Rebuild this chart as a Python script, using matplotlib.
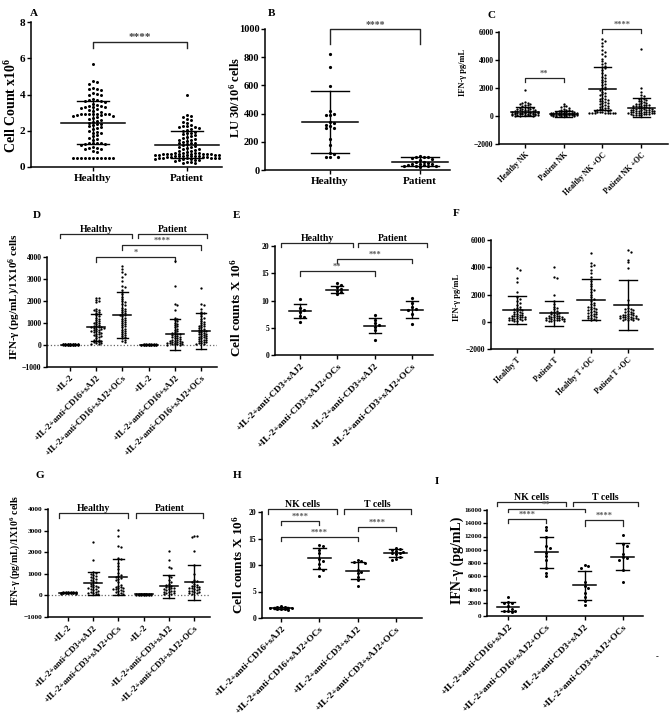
import numpy as np
import matplotlib
matplotlib.use('Agg')
import matplotlib.pyplot as plt

plt.rcParams['font.family'] = ['Liberation Serif', 'DejaVu Serif']
plt.rcParams['font.weight'] = 'bold'
plt.rcParams['mathtext.default'] = 'regular'
plt.rcParams['axes.linewidth'] = 1.1

W, H = 669, 721

# ---------------- data ----------------
# A: cell counts x10^6
A_cats = ['Healthy', 'Patient']
A_healthy = [5.7, 4.75, 4.7, 4.6, 4.35, 4.3, 4.3, 4.25, 4.1, 4.05, 4.0, 3.95, 3.75, 3.7, 3.7,
             3.65, 3.65, 3.6, 3.5, 3.4, 3.35, 3.35, 3.3, 3.3, 3.3, 3.25, 3.2, 3.15, 3.1, 3.05,
             2.95, 2.95, 2.9, 2.9, 2.9, 2.9, 2.9, 2.85, 2.85, 2.8, 2.8, 2.75, 2.7, 2.65, 2.6,
             2.55, 2.5, 2.45, 2.4, 2.35, 2.3, 2.25, 2.2, 2.15, 2.1, 2.0, 1.95, 1.9, 1.85, 1.75,
             1.7, 1.6, 1.55, 1.5, 1.35, 1.3, 1.3, 1.3, 1.25, 1.25, 1.2, 1.1, 1.05, 1.05, 1.0,
             1.0, 0.9, 0.85, 0.5, 0.5, 0.5, 0.5, 0.5, 0.5, 0.5, 0.5, 0.5, 0.5, 0.5]
A_patient = [3.95, 2.85, 2.8, 2.75, 2.65, 2.6, 2.5, 2.45, 2.3, 2.25, 2.25, 2.2, 2.2, 2.15, 2.1,
             2.05, 2.0, 1.95, 1.9, 1.85, 1.8, 1.75, 1.7, 1.65, 1.6, 1.55, 1.5, 1.5, 1.45, 1.4,
             1.35, 1.3, 1.3, 1.25, 1.2, 1.15, 1.1, 1.1, 1.05, 1.0, 1.0, 0.95, 0.9, 0.9, 0.85,
             0.8, 0.8, 0.75, 0.75, 0.7, 0.7, 0.7, 0.7, 0.7, 0.7, 0.7, 0.7, 0.65, 0.65, 0.65,
             0.65, 0.65, 0.6, 0.6, 0.6, 0.6, 0.6, 0.6, 0.55, 0.55, 0.55, 0.55, 0.5, 0.5, 0.5,
             0.5, 0.5, 0.5, 0.45, 0.45, 0.45, 0.4, 0.4, 0.4, 0.35, 0.3, 0.25, 0.2, 0.2]
A_mean = [2.45, 1.22]
A_sd = [1.2, 0.75]

# B: lytic units
B_cats = ['Healthy', 'Patient']
B_healthy = [820, 730, 595, 420, 400, 390, 390, 340, 330, 320, 310, 300, 295, 220, 175, 120,
             110, 95, 90, 90]
B_patient = [100, 95, 95, 90, 85, 80, 70, 60, 55, 50, 45, 40, 40, 35, 35, 30, 30, 30, 25, 20]
B_mean = [340, 60]
B_sd = [220, 32]

# C: IFN-gamma NK
C_cats = ['Healthy NK', 'Patient NK', 'Healthy NK +OC', 'Patient NK +OC']
C_hnk = [1850, 1000, 950, 920, 880, 860, 800, 760, 700, 650, 630, 600, 570, 550, 520, 500,
         480, 460, 430, 420, 400, 380, 370, 350, 340, 320, 300, 290, 280, 270, 260, 250, 240,
         230, 220, 210, 200, 190, 180, 170, 160, 150, 140, 130, 120, 110, 100, 90, 80, 70, 60,
         50, 40, 30, 20, 10]
C_pnk = [880, 750, 700, 650, 600, 520, 450, 420, 400, 380, 350, 330, 310, 300, 280, 260, 250,
         240, 230, 220, 210, 200, 190, 180, 175, 170, 160, 150, 145, 140, 130, 125, 120, 110,
         105, 100, 95, 90, 85, 80, 70, 60, 55, 50, 40, 30, 25, 20, 10, 5]
C_hoc = [5500, 5350, 5200, 5000, 4750, 4600, 4450, 4300, 4100, 3900, 3800, 3700, 3600, 3500,
         3400, 3300, 3100, 2950, 2800, 2700, 2600, 2500, 2400, 2300, 2200, 2100, 2000, 1900,
         1850, 1750, 1650, 1550, 1500, 1400, 1300, 1250, 1200, 1150, 1100, 1050, 1000, 950,
         900, 850, 800, 750, 700, 650, 600, 550, 500, 480, 450, 420, 400, 380, 350, 320, 300,
         280, 250, 230, 210, 200, 200, 200, 200, 200]
C_poc = [4800, 2000, 1700, 1500, 1400, 1300, 1250, 1200, 1150, 1100, 1050, 1000, 950, 900,
         880, 850, 820, 800, 780, 750, 720, 700, 680, 650, 620, 600, 580, 560, 540, 520, 500,
         480, 460, 450, 440, 420, 400, 380, 360, 350, 340, 320, 300, 290, 280, 260, 250, 240,
         220, 200, 190, 180, 160, 150, 140, 120, 100, 80, 60, 40]
C_mean = [300, 150, 1950, 580]
C_sd = [330, 190, 1550, 680]

# D: IFN-gamma NK, anti-CD16
D_cats = ['+IL-2', '+IL-2+anti-CD16+sAJ2', '+IL-2+anti-CD16+sAJ2+OCs',
          '+IL-2', '+IL-2+anti-CD16+sAJ2', '+IL-2+anti-CD16+sAJ2+OCs']
D_h_il2 = [60, 55, 50, 50, 45, 40, 40, 35, 35, 30, 30, 30, 25, 25, 20, 20, 20, 15, 15, 10, 10,
           10, 5, 5, 0, 0, 0, 0]
D_h_cd16 = [2150, 2150, 2050, 2000, 1950, 1650, 1600, 1600, 1550, 1500, 1450, 1400, 1350,
            1300, 1250, 1200, 1150, 1100, 1050, 1000, 980, 950, 900, 880, 850, 830, 800, 800,
            780, 760, 740, 720, 700, 680, 650, 620, 600, 580, 550, 500, 480, 450, 420, 400,
            350, 300, 250, 220, 200, 180, 150, 120, 100, 80, 50, 30]
D_h_oc = [3580, 3450, 3300, 3250, 3100, 2900, 2700, 2650, 2500, 2400, 2300, 2200, 2100, 2000,
          1950, 1850, 1800, 1700, 1650, 1600, 1550, 1500, 1450, 1400, 1380, 1350, 1300, 1250,
          1200, 1150, 1100, 1050, 1000, 950, 900, 850, 800, 750, 700, 650, 600, 550, 500, 450,
          400, 350, 300, 250, 200, 150]
D_p_il2 = [40, 35, 30, 30, 25, 25, 20, 20, 15, 15, 10, 10, 10, 5, 5, 0, 0, 0, 0, 0]
D_p_cd16 = [3800, 2700, 1850, 1800, 1600, 1250, 1200, 1150, 1100, 1000, 950, 900, 850, 800,
            750, 700, 650, 600, 560, 520, 500, 480, 450, 420, 400, 380, 350, 320, 300, 280,
            250, 220, 200, 180, 160, 150, 130, 120, 100, 90, 80, 70, 60, 50, 40, 30, 20, 10]
D_p_oc = [2600, 1850, 1800, 1650, 1500, 1450, 1400, 1300, 1250, 1200, 1100, 1050, 1000, 950,
          900, 880, 850, 800, 780, 750, 700, 680, 650, 620, 600, 580, 550, 520, 500, 480, 450,
          420, 400, 380, 350, 320, 300, 280, 250, 220, 200, 180, 150, 120, 100, 80, 60, 40]
D_mean = [20, 800, 1380, 15, 480, 640]
D_sd = [15, 600, 1050, 12, 720, 800]

# E: T cell counts
E_cats = ['+IL-2+anti-CD3+sAJ2', '+IL-2+anti-CD3+sAJ2+OCs',
          '+IL-2+anti-CD3+sAJ2', '+IL-2+anti-CD3+sAJ2+OCs']
E_vals = [[10.2, 8.7, 8.2, 7.9, 7.2, 6.9, 6.0],
          [13.2, 12.8, 12.5, 12.2, 11.8, 11.5, 11.2],
          [7.3, 6.5, 5.8, 5.5, 5.2, 4.6, 2.8],
          [10.4, 9.5, 8.8, 8.5, 8.3, 7.5, 5.6]]
E_mean = [8.1, 12.0, 5.4, 8.3]
E_sd = [1.25, 0.7, 1.45, 1.6]

# F: IFN-gamma T
F_cats = ['Healthy T', 'Patient T', 'Healthy T +OC', 'Patient T +OC']
F_vals = [[3950, 3800, 3200, 2900, 2200, 1800, 1650, 1500, 1350, 1200, 1100, 1000, 950, 900,
           850, 800, 750, 700, 650, 600, 560, 520, 480, 450, 420, 400, 380, 350, 320, 300,
           280, 250, 220, 200, 180, 150, 120, 100, 80, 50],
          [4050, 3250, 3200, 2000, 1550, 1300, 1100, 1000, 900, 800, 750, 700, 650, 600, 550,
           500, 450, 420, 400, 380, 350, 320, 300, 280, 260, 240, 220, 200, 180, 160, 140, 120,
           100, 80, 60, 40],
          [5050, 4300, 4200, 4100, 3800, 3600, 3300, 3000, 2800, 2600, 2400, 2300, 2200, 2000,
           1800, 1650, 1500, 1400, 1300, 1200, 1100, 1050, 1000, 950, 900, 850, 800, 750, 700,
           650, 600, 550, 500, 450, 400, 350, 300, 250, 200, 150, 100],
          [5250, 5100, 4550, 4350, 3950, 1600, 1200, 1000, 950, 900, 850, 800, 750, 700, 650,
           600, 550, 520, 500, 480, 450, 420, 400, 380, 350, 330, 300, 280, 260, 240, 220, 200,
           180, 150, 120, 100]]
F_mean = [870, 620, 1620, 1230]
F_sd = [1000, 930, 1510, 1820]

# G: IFN-gamma T, anti-CD3
G_cats = ['+IL-2', '+IL-2+anti-CD3+sAJ2', '+IL-2+anti-CD3+sAJ2+OCs',
          '+IL-2', '+IL-2+anti-CD3+sAJ2', '+IL-2+anti-CD3+sAJ2+OCs']
G_vals = [[160, 150, 150, 140, 140, 135, 130, 130, 125, 120, 120, 115, 110, 110, 105, 100, 100,
           95, 90, 90, 85, 80],
          [2450, 1650, 1100, 1050, 1000, 950, 900, 850, 800, 750, 700, 650, 600, 550, 500, 450,
           420, 400, 380, 350, 300, 280, 250, 200, 180, 150, 120, 100, 80, 50],
          [3050, 2750, 2300, 2250, 1750, 1700, 1500, 1350, 1200, 1050, 950, 900, 850, 800, 750,
           700, 600, 500, 450, 400, 380, 350, 320, 300, 280, 250, 220, 200, 150, 120, 80, 50],
          [80, 75, 70, 65, 60, 60, 55, 50, 50, 45, 40, 40, 35, 30, 30, 25, 20],
          [2050, 1650, 1300, 1250, 900, 850, 700, 600, 550, 500, 450, 400, 380, 350, 320, 300,
           280, 250, 220, 200, 180, 150, 120, 100, 80, 50],
          [2750, 2700, 2750, 2050, 1400, 1000, 700, 650, 600, 550, 500, 450, 420, 400, 380, 350,
           320, 300, 280, 250, 220, 200, 180, 150, 120, 100, 80]]
G_mean = [125, 570, 850, 50, 420, 600]
G_sd = [25, 530, 850, 15, 540, 830]

# H: cell counts NK vs T
HI_cats = ['+IL-2+anti-CD16+sAJ2', '+IL-2+anti-CD16+sAJ2+OCs',
           '+IL-2+anti-CD3+sAJ2', '+IL-2+anti-CD3+sAJ2+OCs']
H_vals = [[2.2, 2.1, 2.0, 1.95, 1.9, 1.85, 1.8, 1.75, 1.7, 1.65, 1.6],
          [13.8, 13.6, 12.8, 12.2, 11.2, 10.8, 10.2, 9.5, 9.0, 8.0],
          [10.9, 10.7, 10.6, 10.4, 9.0, 8.6, 8.4, 7.8, 7.2, 6.0],
          [13.2, 13.0, 12.8, 12.6, 12.5, 12.3, 12.2, 12.0, 11.5, 11.2, 11.0]]
H_mean = [1.85, 11.3, 8.95, 12.25]
H_sd = [0.15, 2.0, 1.65, 0.7]

# I: IFN-gamma NK vs T
I_vals = [[2900, 2100, 2000, 1900, 1500, 1100, 800, 700, 700, 600],
          [13500, 13000, 12000, 10500, 10200, 9500, 9000, 8500, 7200, 6500, 6000],
          [7700, 7500, 7300, 5200, 4500, 4200, 3500, 2800, 2200, 1700],
          [12300, 10800, 10500, 9400, 8900, 8800, 8500, 7000, 5200]]
I_mean = [1430, 9650, 4650, 8950]
I_sd = [650, 2350, 2200, 2000]

# ---------------- helpers ----------------
fig = plt.figure(figsize=(6.69, 7.21), dpi=100)


def swarm(ypx, step, ythr, maxw):
    # beeswarm in pixel units; when there is no free slot inside maxw, take the least crowded one
    nmax = max(int(maxw // step), 1)
    cands = [0.0] + [s * j * step for j in range(1, nmax + 1) for s in (1, -1)]
    offs = np.zeros(len(ypx))
    placed = []
    for k in np.argsort(-ypx):
        best, bestd = 0.0, -1.0
        for c in cands:
            d = min([max(abs(c - px) / step, abs(ypx[k] - py) / ythr) for px, py in placed] or [9])
            if d >= 0.99:
                best = c
                break
            if d > bestd:
                best, bestd = c, d
        offs[k] = best
        placed.append((best, ypx[k]))
    return offs


def panel(box, ylim, yticks, t0, dx, cats, rot, tsize, ysize):
    left, right, top, bottom = box
    ax = fig.add_axes([left / W, 1 - bottom / H, (right - left) / W, (bottom - top) / H])
    ax.set_xlim((left - t0) / dx, (right - t0) / dx)
    ax.set_ylim(*ylim)
    ax.set_yticks(yticks)
    ax.set_xticks(range(len(cats)))
    if rot:
        ax.set_xticklabels(cats, rotation=45, ha='right', rotation_mode='anchor', fontsize=tsize)
    else:
        ax.set_xticklabels(cats, fontsize=tsize)
    ax.tick_params(axis='y', labelsize=ysize, length=3, width=1, pad=1)
    ax.tick_params(axis='x', length=3, width=1, pad=2)
    for s in ['top', 'right']:
        ax.spines[s].set_visible(False)
    ax.ypx = (bottom - top) / (ylim[1] - ylim[0])
    ax.dx = dx
    return ax


def dots(ax, i, vals, mean, sd, dot, step, mw=0.32, cw=0.18, spread=0.4):
    vals = np.asarray(vals, float)
    offs = swarm(vals * ax.ypx, step, dot * 0.95, spread * ax.dx)
    ax.scatter(i + offs / ax.dx, vals, s=(dot * 0.72) ** 2, color='black', lw=0, zorder=3)
    ax.plot([i - mw, i + mw], [mean, mean], color='black', lw=1.1, zorder=4)
    ax.plot([i, i], [mean - sd, mean + sd], color='black', lw=1.0, zorder=4)
    for y in (mean - sd, mean + sd):
        ax.plot([i - cw, i + cw], [y, y], color='black', lw=1.0, zorder=4)


def bracket(ax, x1, x2, y, y2, text='', size=6, color='0.35', lw=0.9):
    ax.plot([x1, x1, x2, x2], [y2, y, y, y2], color='0.15', lw=lw, clip_on=False)
    if text:
        ax.text((x1 + x2) / 2, y, text, ha='center', va='bottom', fontsize=size,
                color=color, clip_on=False)


def ylabel(x, y, text, size):
    fig.text(x / W, 1 - y / H, text, rotation=90, ha='center', va='center', fontsize=size)


def letter(x, y, text):
    fig.text(x / W, 1 - y / H, text, ha='left', va='center', fontsize=8)


# ---------------- A ----------------
ax = panel((31, 222, 22, 167), (0, 8), [0, 2, 4, 6, 8], 93, 94, A_cats, False, 8, 8)
for i, v in enumerate([A_healthy, A_patient]):
    dots(ax, i, v, A_mean[i], A_sd[i], 3.0, 4.0, mw=0.34, cw=0.17, spread=0.38)
bracket(ax, 0, 1, 6.9, 6.57, '****', size=8, color='0.25', lw=1.0)
ylabel(11, 105, 'Cell Count x10$^6$', 10)
letter(30, 13, 'A')

# ---------------- B ----------------
ax = panel((265, 450, 29, 170), (0, 1000), range(0, 1001, 200), 330, 90, B_cats, False, 8, 7.5)
for i, v in enumerate([B_healthy, B_patient]):
    dots(ax, i, v, B_mean[i], B_sd[i], 3.2, 4.0, mw=0.31, cw=0.21, spread=0.3)
bracket(ax, 0, 1, 1000, 894, '****', size=7, color='0.3', lw=1.0)
ylabel(235, 97, 'LU 30/10$^6$ cells', 9)
letter(268, 13, 'B')

# ---------------- C ----------------
ax = panel((499, 668, 32, 144), (-2000, 6000), range(-2000, 6001, 2000), 525, 38.7,
           C_cats, True, 5.5, 5.5)
for i, v in enumerate([C_hnk, C_pnk, C_hoc, C_poc]):
    dots(ax, i, v, C_mean[i], C_sd[i], 2.3, 2.6, mw=0.35, cw=0.22, spread=0.4)
bracket(ax, 0, 1, 2714, 2430, '**', size=6)
bracket(ax, 2, 3, 6214, 5930, '****', size=6)
ylabel(463, 72, 'IFN-γ pg/mL', 6)
letter(488, 16, 'C')

# ---------------- D ----------------
ax = panel((47, 217, 257, 367), (-1000, 4000), range(-1000, 4001, 1000), 70, 26.2,
           D_cats, True, 6.3, 5.5)
ax.axhline(0, color='0.4', ls=':', lw=0.9, zorder=1)
for i, v in enumerate([D_h_il2, D_h_cd16, D_h_oc, D_p_il2, D_p_cd16, D_p_oc]):
    dots(ax, i, v, D_mean[i], D_sd[i], 2.3, 2.5, mw=0.34, cw=0.2, spread=0.36)
bracket(ax, -0.38, 2.37, 5045, 4864, 'Healthy', size=7, color='black')
bracket(ax, 2.6, 5.23, 5045, 4864, 'Patient', size=7, color='black')
bracket(ax, 2, 5, 4545, 4318, '****', size=6)
bracket(ax, 1, 4, 4000, 3773, '*', size=6)
ylabel(15, 297, 'IFN-γ (pg/mL)/1X10$^6$ cells', 8)
letter(33, 215, 'D')

# ---------------- E ----------------
ax = panel((275, 433, 246, 355), (0, 20), range(0, 21, 5), 300, 37.3, E_cats, True, 6.8, 5.5)
for i, v in enumerate(E_vals):
    dots(ax, i, v, E_mean[i], E_sd[i], 3.2, 4.0, mw=0.29, cw=0.16, spread=0.3)
bracket(ax, -0.5, 1.42, 20.5, 19.8, 'Healthy', size=7, color='black')
bracket(ax, 1.55, 3.4, 20.5, 19.8, 'Patient', size=7, color='black')
bracket(ax, 1, 3, 17.6, 16.9, '***', size=6)
bracket(ax, 0, 2, 15.4, 14.5, '**', size=6)
ylabel(236, 308, 'Cell counts X 10$^6$', 9.5)
letter(233, 215, 'E')

# ---------------- F ----------------
ax = panel((491, 653, 240, 349), (-2000, 6000), range(-2000, 6001, 2000), 517, 37,
           F_cats, True, 5.5, 5.5)
for i, v in enumerate(F_vals):
    dots(ax, i, v, F_mean[i], F_sd[i], 2.3, 2.6, mw=0.38, cw=0.24, spread=0.4)
ylabel(457, 297, 'IFN-γ pg/mL', 6)
letter(453, 213, 'F')

# ---------------- G ----------------
ax = panel((48, 210, 509, 617), (-1000, 4000), range(-1000, 4001, 1000), 68, 25.2,
           G_cats, True, 6.3, 5.3)
ax.axhline(0, color='0.4', ls=':', lw=0.9, zorder=1)
for i, v in enumerate(G_vals):
    dots(ax, i, v, G_mean[i], G_sd[i], 2.3, 2.5, mw=0.36, cw=0.22, spread=0.36)
bracket(ax, -0.36, 2.38, 3815, 3583, 'Healthy', size=7, color='black')
bracket(ax, 2.7, 5.36, 3815, 3583, 'Patient', size=7, color='black')
ylabel(15, 550, 'IFN-γ (pg/mL)/1X10$^6$ cells', 7)
letter(36, 475, 'G')

# ---------------- H ----------------
ax = panel((262, 422, 512, 618), (0, 20), range(0, 21, 5), 281, 38.3, HI_cats, True, 6.8, 5.5)
for i, v in enumerate(H_vals):
    dots(ax, i, v, H_mean[i], H_sd[i], 3.0, 3.6, mw=0.3, cw=0.17, spread=0.3)
bracket(ax, -0.34, 1.46, 20.6, 19.6, 'NK cells', size=7, color='black')
bracket(ax, 1.64, 3.39, 20.6, 19.6, 'T cells', size=7, color='black')
bracket(ax, 0, 1, 18.3, 17.5, '****', size=6)
bracket(ax, 0, 2, 15.3, 14.5, '****', size=6)
bracket(ax, 2, 3, 17.2, 16.4, '****', size=6)
ylabel(238, 565, 'Cell counts X 10$^6$', 9.5)
letter(233, 475, 'H')

# ---------------- I ----------------
ax = panel((487, 643, 510, 616), (0, 16000), range(0, 16001, 2000), 508, 38.3,
           HI_cats, True, 6.8, 5)
for i, v in enumerate(I_vals):
    dots(ax, i, v, I_mean[i], I_sd[i], 3.0, 3.6, mw=0.3, cw=0.17, spread=0.3)
bracket(ax, -0.29, 1.51, 17200, 16600, 'NK cells', size=7, color='black')
bracket(ax, 1.7, 3.39, 17200, 16600, 'T cells', size=7, color='black')
bracket(ax, 0, 2, 16150, 15700, '**', size=6)
bracket(ax, 0, 1, 14640, 14040, '****', size=6)
bracket(ax, 2, 3, 14490, 13585, '****', size=6)
ylabel(457, 560, 'IFN-γ (pg/mL)', 10)
letter(435, 482, 'I')
fig.text(657 / W, 1 - 657 / H, '-', fontsize=6, ha='center', va='center')

fig.savefig('out.png', dpi=100, facecolor='white')
